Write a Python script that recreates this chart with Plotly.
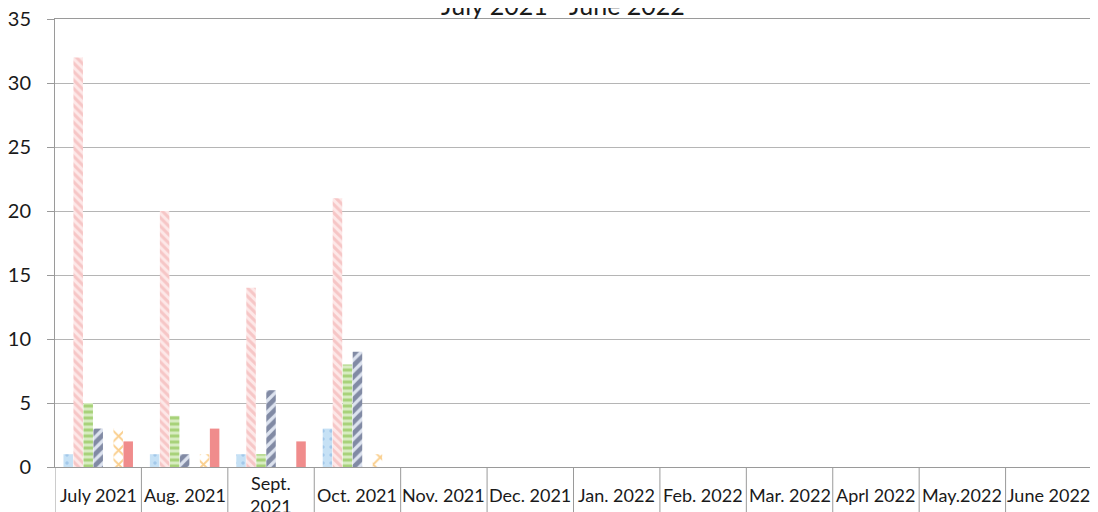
import plotly.graph_objects as go

months = ["July 2021", "Aug. 2021", "Sept.<br>2021", "Oct. 2021", "Nov. 2021", "Dec. 2021",
          "Jan. 2022", "Feb. 2022", "Mar. 2022", "Aprl 2022", "May.2022", "June 2022"]

s_blue = [1, 1, 1, 3, None, None, None, None, None, None, None, None]
s_pink = [32, 20, 14, 21, None, None, None, None, None, None, None, None]
s_green = [5, 4, 1, 8, None, None, None, None, None, None, None, None]
s_navy = [3, 1, 6, 9, None, None, None, None, None, None, None, None]
s_empty = [0, 0, 0, 0, None, None, None, None, None, None, None, None]
s_orange = [3, 1, 0, 1, None, None, None, None, None, None, None, None]
s_red = [2, 3, 2, 0, None, None, None, None, None, None, None, None]

y_ticks = [0, 5, 10, 15, 20, 25, 30, 35]
title_text = "July 2021 - June 2022"

idx = list(range(len(months)))

series = [
    ("Series 1", s_blue, dict(shape=".", fgcolor="#7fb0dd", bgcolor="#c6e1f5", size=8, solidity=0.15)),
    ("Series 2", s_pink, dict(shape="\\", fgcolor="#f0a3a3", bgcolor="#fde8e8", size=6, solidity=0.5)),
    ("Series 3", s_green, dict(shape="-", fgcolor="#78b832", bgcolor="#d8ecc2", size=6, solidity=0.5)),
    ("Series 4", s_navy, dict(shape="/", fgcolor="#26325a", bgcolor="#dde3ef", size=8, solidity=0.6)),
    ("Series 5", s_empty, dict(shape="", fgcolor="#ffffff", bgcolor="#ffffff")),
    ("Series 6", s_orange, dict(shape="x", fgcolor="#f5a01e", bgcolor="#ffffff", size=10, solidity=0.35)),
    ("Series 7", s_red, dict(shape="", fgcolor="#f08c8c", bgcolor="#f08c8c")),
]

fig = go.Figure()
for name, vals, pat in series:
    color = pat["bgcolor"]
    fig.add_trace(go.Bar(
        x=idx, y=vals, name=name,
        marker=dict(color=color, line=dict(width=0), pattern=pat if pat["shape"] else None),
    ))

# category divider lines of the table-like axis
shapes = []
for i in range(len(months) + 1):
    shapes.append(dict(type="line", xref="x", yref="paper", x0=i - 0.5, x1=i - 0.5,
                       y0=0, y1=-0.2, line=dict(color="#9a9a9a", width=1)))

annotations = []
for i, m in enumerate(months):
    annotations.append(dict(x=i, y=-0.062, xref="x", yref="paper", text=m, showarrow=False,
                            yanchor="middle", xanchor="center",
                            font=dict(family="Lato, Open Sans, sans-serif", size=18, color="#1a1a1a")))
annotations.append(dict(x=0.49, y=1, xref="paper", yref="paper", text=title_text, showarrow=False,
                        yanchor="bottom", xanchor="center", yshift=-3,
                        font=dict(family="Lato, Open Sans, sans-serif", size=25, color="#1a1a1a")))

fig.update_layout(
    width=1098, height=512,
    margin=dict(l=47, r=14, t=11, b=53, autoexpand=False),
    paper_bgcolor="white", plot_bgcolor="white",
    barmode="group", bargap=0.19, bargroupgap=0.05,
    showlegend=False,
    shapes=shapes, annotations=annotations,
    xaxis=dict(range=[-0.5, len(months) - 0.5], showticklabels=False, showgrid=False, automargin=False,
               zeroline=False, showline=True, mirror=True, linecolor="#9a9a9a", linewidth=1,
               fixedrange=True),
    yaxis=dict(range=[0, 35], tickvals=y_ticks, showgrid=True, gridcolor="#b5b5b5", gridwidth=1,
               automargin=False, ticklabeloverflow="allow",
               zeroline=False, showline=True, linecolor="#9a9a9a", linewidth=1,
               ticks="outside", ticklen=7, tickcolor="#9a9a9a", ticklabelstandoff=12,
               tickfont=dict(family="Lato, Open Sans, sans-serif", size=20, color="#1a1a1a")),
)

fig.write_html("out.html")
